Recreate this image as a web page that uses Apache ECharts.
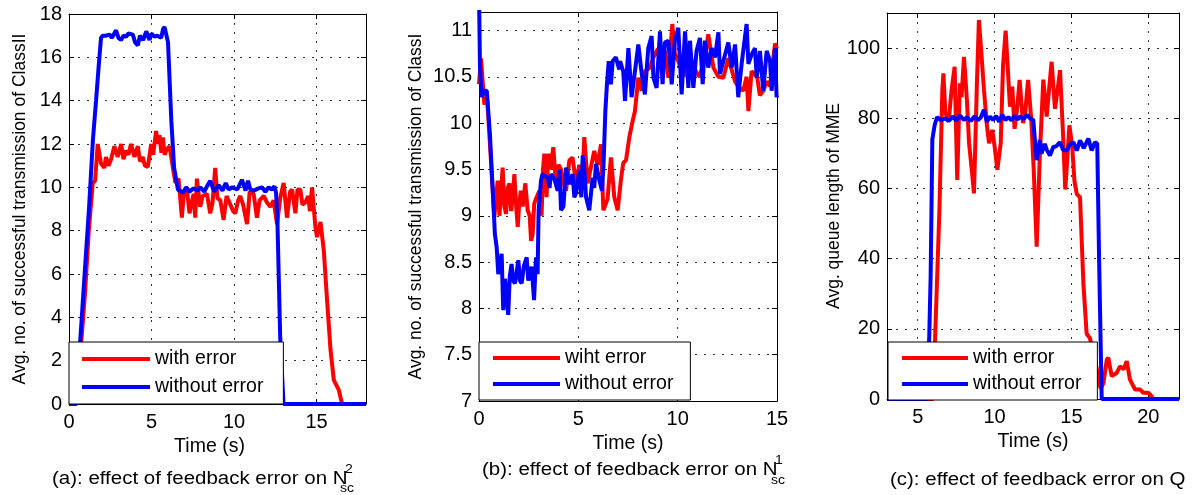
<!DOCTYPE html>
<html><head><meta charset="utf-8">
<script src="https://cdn.jsdelivr.net/npm/echarts@6/dist/echarts.min.js"></script>
<style>html,body{margin:0;padding:0;background:#fff}#c{width:1196px;height:495px}</style>
</head><body><div id="c"></div>
<script>
// ---------- data ----------
const legendA = ['with error', 'without error'];
const legendB = ['wiht error', 'without error'];
const legendC = ['with error', 'without error'];
const xNameAll = 'Time (s)';
const yNameA = 'Avg. no. of successful transmission of ClassII';
const yNameB = 'Avg. no. of successful transmission of ClassI';
const yNameC = 'Avg. queue length of MME';
const captionA = '(a): effect of feedback error on N';
const captionB = '(b): effect of feedback error on N';
const captionC = '(c): effect of feedback error on Q';
const supA = '2', supB = '1', subAB = 'sc';
const cXTicks = [5, 10, 15, 20];

const aWithError = [[0,0],[0.45,0],[0.97,5.1],[1.2,8.0],[1.44,10.2],[1.58,10.3],[1.74,12.0],[1.94,11.1],[2.14,10.9],[2.24,11.4],[2.4,11.0],[2.55,11.3],[2.75,11.9],[2.95,11.4],[3.16,12.0],[3.3,11.3],[3.46,11.7],[3.6,11.5],[3.76,12.0],[3.97,11.4],[4.17,11.9],[4.3,11.2],[4.47,11.4],[4.6,11.0],[4.78,10.95],[4.98,12.0],[5.1,11.5],[5.28,12.6],[5.38,12.0],[5.48,12.4],[5.6,11.6],[5.69,12.3],[5.8,11.5],[5.89,11.7],[6.09,11.9],[6.3,10.9],[6.45,10.2],[6.64,10.4],[6.84,8.6],[6.95,9.6],[7.14,10.0],[7.3,8.8],[7.55,9.7],[7.65,8.6],[7.75,10.4],[7.95,9.1],[8.1,9.6],[8.36,9.7],[8.56,8.8],[8.7,9.3],[8.86,10.9],[9.0,9.5],[9.17,9.4],[9.37,8.5],[9.55,9.6],[9.78,9.2],[9.95,8.9],[10.08,8.8],[10.25,9.4],[10.38,9.6],[10.55,9.2],[10.79,8.3],[10.95,9.8],[11.19,9.7],[11.39,8.6],[11.55,9.4],[11.8,9.6],[12.0,9.3],[12.2,9.1],[12.4,9.4],[12.61,8.3],[12.8,9.5],[13.01,10.2],[13.21,8.6],[13.4,9.8],[13.52,9.9],[13.72,8.8],[13.85,9.9],[14.02,9.9],[14.15,9.2],[14.32,9.3],[14.5,9.6],[14.6,8.9],[14.73,10.0],[14.93,8.2],[15.03,7.7],[15.24,8.4],[15.44,7.1],[15.64,4.8],[15.85,2.5],[16.05,1.1],[16.35,0.65],[16.55,0],[18,0]];
const aWithoutError = [[0,0],[0.45,0],[0.67,2.8],[1.0,6.6],[1.21,9.0],[1.45,12.2],[1.64,14.0],[1.8,15.6],[1.94,16.9],[2.04,17.0],[2.25,17.0],[2.45,17.05],[2.6,16.9],[2.85,17.25],[3.0,16.9],[3.16,16.8],[3.3,17.0],[3.46,16.95],[3.6,17.1],[3.87,17.05],[4.0,16.7],[4.17,16.55],[4.3,17.0],[4.37,17.05],[4.5,16.8],[4.68,17.2],[4.88,16.8],[5.0,17.1],[5.18,16.95],[5.35,17.0],[5.59,16.9],[5.7,17.3],[5.79,17.4],[6.0,16.7],[6.2,13.1],[6.37,10.9],[6.6,9.9],[6.9,9.75],[7.1,10.0],[7.3,9.8],[7.55,9.95],[7.8,9.85],[7.95,10.0],[8.2,9.8],[8.4,10.1],[8.56,10.3],[8.8,9.8],[9.07,10.1],[9.3,9.85],[9.5,10.2],[9.67,9.9],[9.9,10.0],[10.2,9.9],[10.48,10.35],[10.7,9.85],[10.85,10.3],[10.99,9.9],[11.2,9.85],[11.49,9.95],[11.7,10.0],[11.9,9.8],[12.1,10.0],[12.3,9.9],[12.45,10.05],[12.55,9.75],[12.63,8.5],[12.8,3.1],[13.0,0],[18,0]];

const bWithError = [[0,10.42],[0.1,10.7],[0.18,10.71],[0.27,10.2],[0.4,10.3],[0.6,9.6],[0.77,8.98],[0.94,9.38],[1.03,9.0],[1.11,8.98],[1.19,9.52],[1.28,9.1],[1.36,9.02],[1.45,9.3],[1.53,9.35],[1.62,9.05],[1.69,9.2],[1.78,9.45],[1.87,9.1],[1.95,8.88],[2.03,9.15],[2.11,9.27],[2.2,9.1],[2.33,9.35],[2.45,9.06],[2.55,9.0],[2.62,8.73],[2.7,8.8],[2.78,9.13],[2.9,9.2],[3.04,9.27],[3.15,9.0],[3.22,9.5],[3.29,9.67],[3.4,9.2],[3.5,9.67],[3.6,9.5],[3.74,9.74],[3.87,9.35],[4.0,9.55],[4.13,9.5],[4.25,9.35],[4.38,9.27],[4.55,9.6],[4.71,9.63],[4.88,9.35],[5.05,9.55],[5.22,9.45],[5.3,9.85],[5.47,9.35],[5.63,9.52],[5.8,9.7],[5.97,9.55],[6.14,9.77],[6.26,9.06],[6.47,9.18],[6.64,9.63],[6.81,9.2],[6.98,9.06],[7.15,9.4],[7.26,9.57],[7.4,9.6],[7.57,9.85],[7.73,10.02],[7.85,10.13],[8.02,10.49],[8.19,10.35],[8.35,10.56],[8.6,10.6],[8.78,10.71],[9.0,10.8],[9.11,10.65],[9.36,10.78],[9.53,10.49],[9.73,11.07],[9.86,10.75],[10.03,10.67],[10.3,10.5],[10.54,10.8],[10.8,10.6],[11.1,10.5],[11.37,10.7],[11.54,10.96],[11.8,10.6],[12.05,10.5],[12.3,10.49],[12.55,10.7],[12.89,10.45],[13.1,10.38],[13.3,10.35],[13.47,10.5],[13.56,10.13],[13.72,10.56],[14.0,10.5],[14.14,10.3],[14.31,10.35],[14.48,10.45],[14.65,10.4],[14.9,10.86],[15,10.8]];
const bWithoutError = [[0,11.4],[0.05,10.6],[0.14,10.28],[0.25,10.35],[0.39,10.35],[0.55,9.88],[0.64,9.49],[0.72,9.16],[0.8,8.8],[0.89,8.66],[0.97,8.37],[1.06,8.35],[1.14,8.59],[1.22,7.98],[1.31,8.32],[1.39,8.3],[1.47,7.93],[1.55,8.35],[1.64,8.48],[1.72,8.3],[1.81,8.27],[1.9,8.4],[1.98,8.52],[2.06,8.3],[2.15,8.27],[2.25,8.45],[2.4,8.55],[2.48,8.3],[2.57,8.3],[2.65,8.45],[2.77,8.09],[2.87,8.55],[2.95,8.37],[3.0,9.06],[3.12,9.38],[3.2,9.45],[3.29,9.43],[3.46,9.41],[3.55,9.3],[3.62,9.45],[3.79,9.4],[3.96,9.27],[4.05,9.5],[4.13,9.06],[4.25,9.1],[4.38,9.52],[4.55,9.34],[4.71,9.45],[4.8,9.2],[4.88,9.24],[5.05,9.49],[5.15,9.2],[5.22,9.65],[5.3,9.5],[5.39,9.2],[5.55,9.06],[5.72,9.41],[5.8,9.3],[5.89,9.56],[6.06,9.38],[6.19,9.27],[6.27,9.56],[6.36,10.13],[6.44,10.42],[6.53,10.67],[6.64,10.42],[6.73,10.67],[6.89,10.71],[7.06,10.58],[7.1,10.67],[7.26,10.56],[7.35,10.24],[7.52,10.81],[7.68,10.28],[7.85,10.56],[8.02,10.85],[8.19,10.53],[8.35,10.31],[8.52,10.81],[8.69,10.94],[8.78,10.49],[8.94,10.38],[9.11,10.99],[9.24,10.42],[9.36,10.87],[9.53,10.89],[9.7,10.42],[9.86,10.89],[10.03,11.03],[10.2,10.31],[10.37,10.99],[10.54,10.38],[10.62,10.89],[10.79,10.38],[10.95,10.78],[11.12,10.92],[11.26,10.42],[11.37,10.89],[11.54,10.6],[11.71,10.81],[11.88,10.71],[12.05,10.98],[12.13,10.53],[12.3,10.67],[12.55,10.87],[12.72,10.6],[12.89,10.85],[13.05,10.28],[13.22,10.64],[13.47,11.07],[13.56,10.64],[13.72,10.74],[13.89,10.81],[13.98,10.49],[14.14,10.78],[14.31,10.35],[14.48,10.78],[14.65,10.67],[14.73,10.35],[14.9,10.81],[14.98,10.28],[15,10.3]];

const cWithError = [[3,0],[6.0,0],[6.12,16],[6.41,53.8],[6.6,88],[6.67,92.8],[6.8,81.4],[7.02,79.5],[7.2,88],[7.4,94.7],[7.57,62.4],[7.74,90],[7.85,86],[8.01,97.5],[8.2,85],[8.34,72.9],[8.5,66],[8.66,58.6],[8.85,90],[8.98,108],[9.15,98],[9.31,88],[9.5,78],[9.64,72.9],[9.85,76.7],[10.0,72],[10.18,65.3],[10.4,72.9],[10.55,95],[10.72,105],[10.85,95],[11.0,83.3],[11.15,89],[11.3,77],[11.45,82],[11.63,90.9],[11.85,78.6],[12.0,82],[12.18,90.9],[12.39,79.5],[12.55,65],[12.74,43.4],[12.95,70],[13.17,91],[13.39,80.5],[13.5,86],[13.71,96.1],[13.93,82.7],[14.1,88],[14.26,93.7],[14.47,74],[14.6,59.7],[14.87,78],[15.05,72],[15.2,62],[15.35,58.4],[15.56,57.5],[15.78,32.8],[15.99,18.6],[16.2,17.4],[16.5,12],[16.9,3],[17.08,4.5],[17.3,11.2],[17.4,11.8],[17.62,6.5],[17.94,7.4],[18.16,9.3],[18.4,8.5],[18.6,10.8],[18.81,5.5],[19.14,2.7],[19.46,2.7],[19.68,1.8],[20.0,1.8],[20.2,0.9],[20.3,0],[22,0]];
const cWithoutError = [[3,0],[5.6,0],[5.75,18],[5.84,35],[5.95,74],[6.1,78],[6.25,80.3],[6.5,79.5],[6.8,80],[7.0,79.2],[7.3,80.5],[7.5,79.3],[7.75,80.8],[8.0,79.5],[8.2,80.3],[8.45,79.2],[8.7,80.6],[8.9,79.4],[9.1,80.2],[9.31,82.4],[9.5,79],[9.7,80.5],[9.9,79.5],[10.1,80.7],[10.3,79],[10.5,81],[10.7,79.5],[10.9,80.3],[11.1,79.4],[11.3,80.8],[11.5,79.6],[11.65,80.5],[11.9,79.8],[12.1,81],[12.3,80],[12.52,79.5],[12.6,75],[12.73,68.1],[12.85,71],[12.95,73.8],[13.05,69.9],[13.17,70],[13.27,72.7],[13.4,71],[13.6,69.4],[13.82,71.8],[14.0,72],[14.26,73.2],[14.45,71],[14.69,70.8],[14.9,72.5],[15.13,73.2],[15.35,70.8],[15.56,73.7],[15.8,71.5],[16.1,74.2],[16.32,70.8],[16.53,73.2],[16.68,72.7],[16.8,40],[16.97,0],[22,0]];

// ---------- layout / style ----------
const FONT = "'Liberation Sans', Arial, Helvetica, sans-serif";
const RED = '#ff0000', BLUE = '#0000ff';
const panels = [
  { grid:{left:69, top:14, width:297, height:390}, x:{min:0,max:18,interval:5}, y:{min:0,max:18,interval:2},
    showMaxX:false, showMaxY:true, yName:yNameA, yGap:40, xGap:31, xNamePad:[0,16,0,0], red:aWithError, blue:aWithoutError, names:legendA,
    legend:{left:69, top:342, padding:[7,20,7,13], itemGap:8, itemWidth:68} },
  { grid:{left:479, top:12, width:298, height:389}, x:{min:0,max:15,interval:5}, y:{min:7,max:11.2,interval:0.5},
    showMaxX:true, showMaxY:false, yName:yNameB, yGap:54, xGap:29, xNamePad:[0,0,0,0], red:bWithError, blue:bWithoutError, names:legendB,
    legend:{left:479, top:342, padding:[6,17,6,14], itemGap:6, itemWidth:67} },
  { grid:{left:887, top:13, width:292, height:386}, x:{min:3,max:22,custom:cXTicks}, y:{min:0,max:110,interval:20},
    showMaxX:true, showMaxY:false, yName:yNameC, yGap:44, xGap:29, xNamePad:[0,0,0,0], red:cWithError, blue:cWithoutError, names:legendC,
    legend:{left:888, top:342, padding:[6,16,6,14], itemGap:6, itemWidth:66} }
];

const option = { animation:false, backgroundColor:'#fff', grid:[], xAxis:[], yAxis:[], series:[], legend:[], graphic:[] };
const lineAxis = {show:true, onZero:false, lineStyle:{color:'#000', width:1}};
const tick = {show:true, inside:true, length:5, lineStyle:{color:'#000', width:1}};
const split = {show:true, lineStyle:{color:'#333', width:1, type:[2,7]}};
const labelStyle = {color:'#000', fontFamily:FONT, fontSize:20};

panels.forEach((p, i) => {
  option.grid.push(Object.assign({containLabel:false}, p.grid));
  const xScale = p.x.custom ? {min:p.x.min, max:p.x.max} : {min:p.x.min, max:p.x.max, interval:p.x.interval};
  const xTick = p.x.custom ? Object.assign({}, tick, {customValues:p.x.custom}) : tick;
  option.xAxis.push(Object.assign({
    gridIndex:i, type:'value', position:'bottom', axisLine:lineAxis, axisTick:xTick,
    axisLabel:Object.assign({margin:8, showMaxLabel:p.showMaxX}, labelStyle, p.x.custom ? {customValues:p.x.custom} : {}),
    splitLine:split, name:xNameAll, nameLocation:'middle', nameGap:p.xGap,
    nameTextStyle:{color:'#000', fontFamily:FONT, fontSize:19.5, padding:p.xNamePad}
  }, xScale));
  option.xAxis.push(Object.assign({
    gridIndex:i, type:'value', position:'top', axisLine:lineAxis, axisTick:xTick,
    axisLabel:{show:false}, splitLine:{show:false}
  }, xScale));
  const yScale = {min:p.y.min, max:p.y.max, interval:p.y.interval};
  option.yAxis.push(Object.assign({
    gridIndex:i, type:'value', position:'left', axisLine:lineAxis, axisTick:tick,
    axisLabel:Object.assign({margin:7, showMaxLabel:p.showMaxY}, labelStyle),
    splitLine:split, name:p.yName, nameLocation:'middle', nameRotate:90, nameGap:p.yGap,
    nameTextStyle:{color:'#000', fontFamily:FONT, fontSize:17.5}
  }, yScale));
  option.yAxis.push(Object.assign({
    gridIndex:i, type:'value', position:'right', axisLine:lineAxis, axisTick:tick,
    axisLabel:{show:false}, splitLine:{show:false}
  }, yScale));
  const mk = (name, data, color, z) => ({
    type:'line', name, data, xAxisIndex:2*i, yAxisIndex:2*i, showSymbol:false, symbol:'none',
    color, lineStyle:{color, width:4}, z, clip:true, silent:true
  });
  option.series.push(mk(p.names[0], p.red, RED, 2));
  option.series.push(mk(p.names[1], p.blue, BLUE, 3));
  option.legend.push(Object.assign({
    orient:'vertical', data:p.names, icon:'rect', itemHeight:4, selectedMode:false,
    backgroundColor:'#fff', borderColor:'#000', borderWidth:1, borderRadius:0,
    textStyle:{color:'#000', fontFamily:FONT, fontSize:19.5, lineHeight:20}
  }, p.legend));
});

const capFont = (s) => s + "px 'Liberation Sans', Arial, sans-serif";
function capText(text, x, y, size, sx) {
  return {type:'text', x, y, scaleX:sx, z:10, style:{text, font:capFont(size), fill:'#000', verticalAlign:'middle', align:'left'}};
}
option.graphic = [
  capText(captionA, 52, 479, 17.5, 1.17),
  capText(supA, 345, 470, 12, 1.17),
  capText(subAB, 340, 489, 12, 1.17),
  capText(captionB, 482, 470, 17.5, 1.17),
  capText(supB, 775, 461, 12, 1.17),
  capText(subAB, 771, 481, 12, 1.17),
  capText(captionC, 890, 480, 17.5, 1.17)
];

const chart = echarts.init(document.getElementById('c'), null, {renderer:'canvas'});
chart.setOption(option);
</script></body></html>
